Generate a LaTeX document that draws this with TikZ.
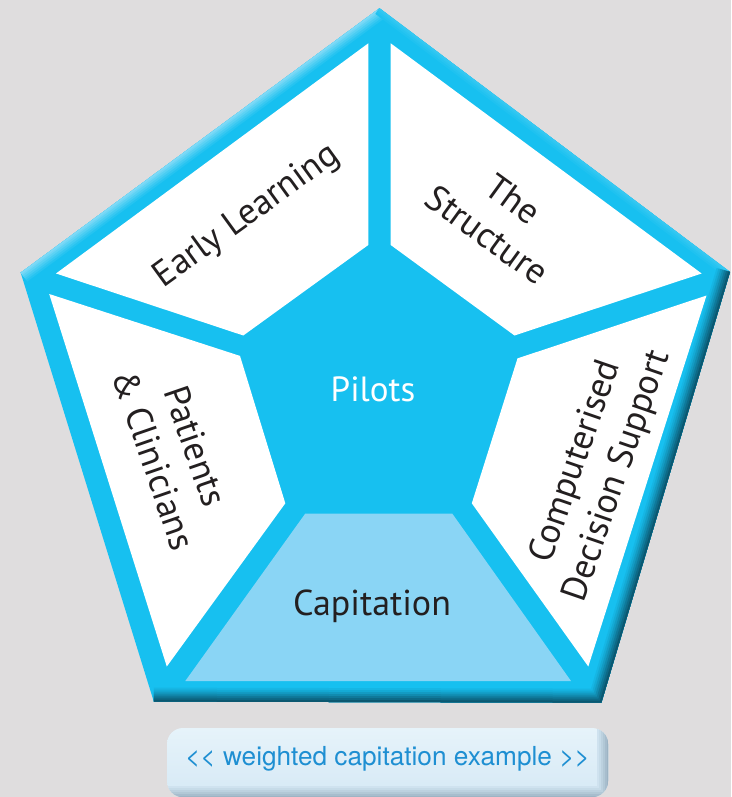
\documentclass[tikz,border=0pt]{standalone}
\usepackage{fontspec}
\setmainfont{PT Sans}
\newfontfamily\boxfont{TeX Gyre Heros}
\definecolor{bgc}{HTML}{DFDDDE}
\definecolor{base}{HTML}{17C0F0}
\definecolor{lightseg}{HTML}{8AD5F5}
\definecolor{dk}{HTML}{094459}
\definecolor{hl}{HTML}{95E0F8}
\definecolor{txt}{HTML}{231F20}
\definecolor{boxtxt}{HTML}{1E8FD2}
\definecolor{boxtop}{HTML}{E6F3FA}
\definecolor{boxbot}{HTML}{D6E9F5}
\definecolor{boxdk}{HTML}{8FA7B8}
\begin{document}
\begin{tikzpicture}[x=1pt,y=-1pt,
  lbl/.style={text=txt, font=\fontsize{36}{44}\selectfont, align=center, inner sep=0pt},
  seg/.style={fill=white},
  capseg/.style={fill=lightseg}]
\useasboundingbox (0,0) rectangle (731,797);
\fill[bgc] (0,0) rectangle (731,797);
% outer pentagon
\coordinate (T) at (379.5,8.3);
\coordinate (L) at (20.7,272.7);
\coordinate (R) at (730,272);
\coordinate (BR) at (601.4,702.6);
\coordinate (BL) at (153.8,701.6);
\fill[base] (T)--(R)--(BR)--(BL)--(L)--cycle;
\begin{scope}
  \clip (T)--(R)--(BR)--(BL)--(L)--cycle;
  \foreach \w/\p in {22/12,18/25,14/40,10/55,6/70,3/82}
    \draw[line width=\w pt, hl!\p!base] (L)--(T);
  \foreach \w/\p in {14/6,10/12,6/18,3/24}
    \draw[line width=\w pt, hl!\p!base] (T)--(R);
  \foreach \w/\p in {28/8,24/18,20/30,16/43,12/57,8/70,4/84}
    \draw[line width=\w pt, dk!\p!base, line join=miter] (R)--(BR)--(BL);
\end{scope}
% segments
\fill[seg] (56,273.5)--(368.3,43.3)--(368.3,245)--(243.3,335.5)--cycle;
\fill[seg] (390.7,43.3)--(701.6,273.5)--(514.5,335.5)--(390.7,245)--cycle;
\fill[seg] (706.5,295.5)--(588.3,666.5)--(471.8,503.3)--(517.5,358.4)--cycle;
\fill[seg] (49.2,294)--(240,355.9)--(285.3,503.3)--(166.8,666.5)--cycle;
\fill[capseg] (305.3,513.5)--(452.2,513.5)--(571,681)--(185.3,681)--cycle;
% labels
\node[lbl, rotate=36] (el) at (247,216.5) {Early Learning};
\node[lbl, rotate=-36] (ts) at (500,217) {The\\Structure};
\node[lbl, text=white, font=\fontsize{35}{44}\selectfont, anchor=base] (pi) at (373,401.7) {Pilots};
\node[lbl, rotate=-71] (pc) at (175,453) {Patients\\\&~Clinicians};
\node[lbl, rotate=71] (cd) at (597,469) {Computerised\\Decision Support};
\node[lbl, anchor=base] (ca) at (372,615) {Capitation};
% example box
\shade[top color=boxtop, bottom color=boxbot, rounded corners=16pt] (167,728) rectangle (608,797);
\begin{scope}
  \clip[rounded corners=16pt] (167,728) rectangle (608,797);
  \foreach \w/\p in {22/10,18/22,14/36,10/50,6/66,2/80}
    \draw[line width=\w pt, boxdk!\p!boxbot] (608,720)--(608,797)--(160,797);
\end{scope}
\node[text=boxtxt, font=\boxfont\fontsize{26.2}{30}\selectfont, inner sep=0pt, anchor=base] (ex) at (387.5,765) {<\kern0pt< weighted capitation example >\kern0pt>};
\end{tikzpicture}
\end{document}
